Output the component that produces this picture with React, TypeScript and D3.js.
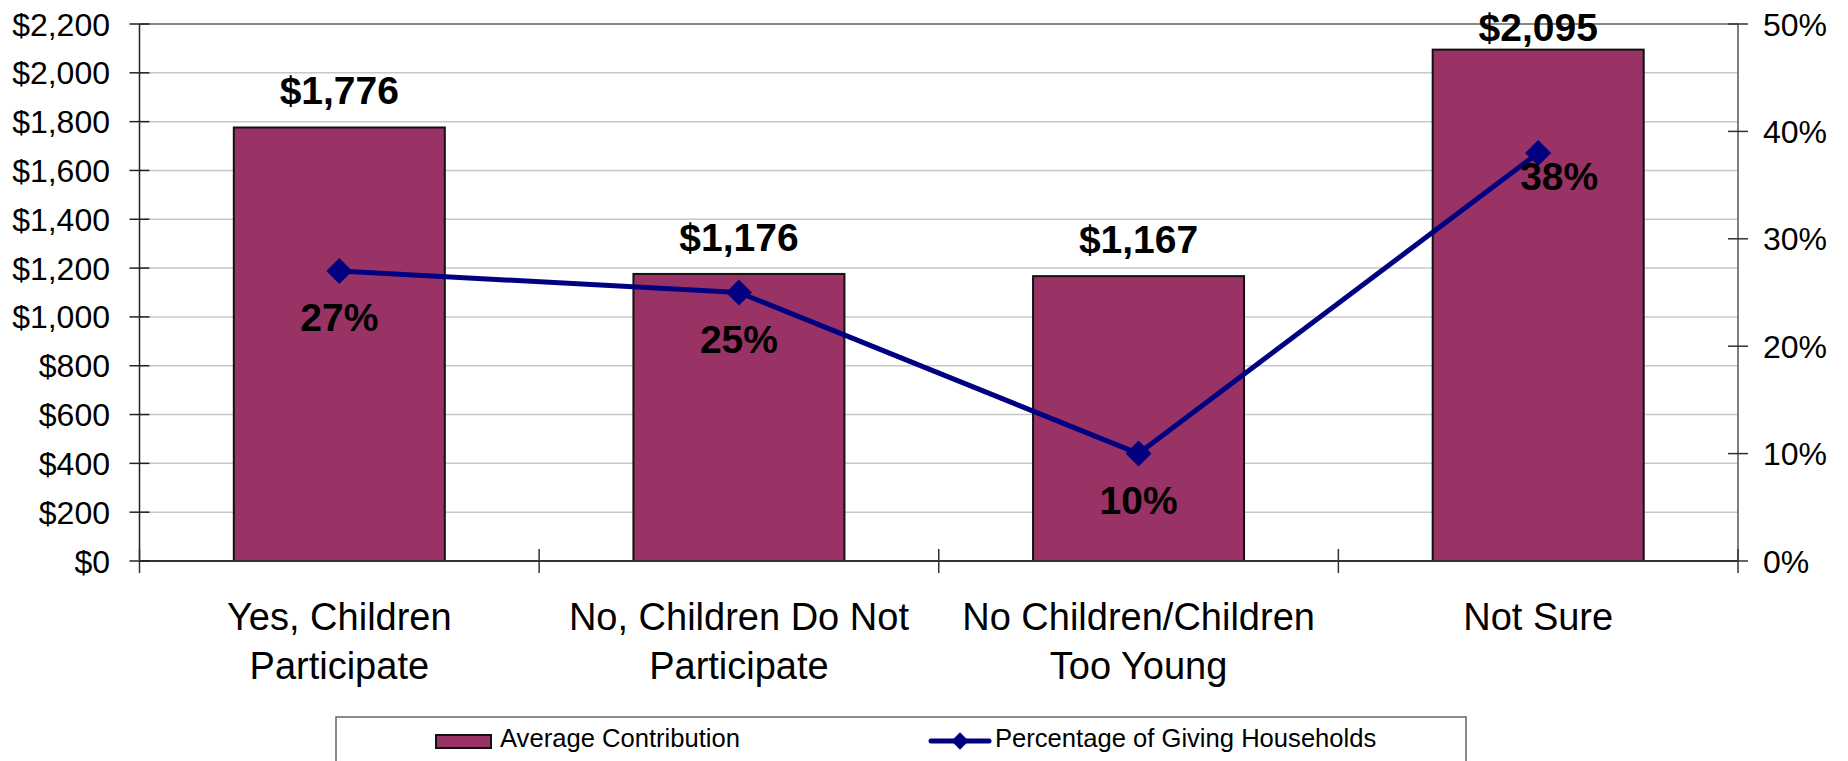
import React from "react";
import * as d3 from "d3";

const categories: string[][] = [
  ["Yes, Children", "Participate"],
  ["No, Children Do Not", "Participate"],
  ["No Children/Children", "Too Young"],
  ["Not Sure"],
];
const categoryKeys = ["yes", "no", "none", "notsure"];
const avgContribution = [1776, 1176, 1167, 2095];
const pctGiving = [0.27, 0.25, 0.1, 0.38];
const leftTicks = [0, 200, 400, 600, 800, 1000, 1200, 1400, 1600, 1800, 2000, 2200];
const rightTicks = [0, 0.1, 0.2, 0.3, 0.4, 0.5];
const seriesNames = ["Average Contribution", "Percentage of Giving Households"];

const W = 1848;
const H = 761;
const X0 = 139.5;
const X1 = 1738;
const Y0 = 561;
const Y1 = 24;
const FONT = "'Liberation Sans', Arial, sans-serif";
const BAR = "#993366";
const NAVY = "#000080";

export default function App() {
  const x = d3
    .scaleBand<string>()
    .domain(categoryKeys)
    .range([X0, X1])
    .paddingInner(0.472)
    .paddingOuter(0.236);
  const step = x.step();
  const yL = d3.scaleLinear().domain([0, 2200]).range([Y0, Y1]);
  const yR = d3.scaleLinear().domain([0, 0.5]).range([Y0, Y1]);
  const cx = (i: number) => (x(categoryKeys[i]) as number) + x.bandwidth() / 2;

  const line = d3
    .line<number>()
    .x((_, i) => cx(i))
    .y((d) => yR(d));

  const diamond = d3.symbol(d3.symbolSquare, 338)() as string;
  const diamondSmall = d3.symbol(d3.symbolSquare, 150)() as string;

  const boundaries = d3.range(categoryKeys.length + 1).map((i) => X0 + i * step);

  return (
    <svg
      width={W}
      height={H}
      style={{ position: "absolute", left: 0, top: 0, background: "#fff" }}
      fontFamily={FONT}
    >
      <rect x={0} y={0} width={W} height={H} fill="#fff" />
      {/* gridlines */}
      {leftTicks.map((t) => (
        <line
          key={"g" + t}
          x1={X0}
          x2={X1}
          y1={yL(t)}
          y2={yL(t)}
          stroke={t === 2200 ? "#888" : "#c8c8c8"}
          strokeWidth={t === 2200 ? 2 : 1.5}
        />
      ))}
      {/* bars */}
      {avgContribution.map((v, i) => (
        <rect
          key={"b" + i}
          x={x(categoryKeys[i])}
          y={yL(v)}
          width={x.bandwidth()}
          height={yL(0) - yL(v)}
          fill={BAR}
          stroke="#111"
          strokeWidth={2}
        />
      ))}
      {/* axes */}
      <line x1={X0} x2={X0} y1={Y1} y2={Y0} stroke="#222" strokeWidth={1.5} />
      <line x1={X1} x2={X1} y1={Y1} y2={Y0} stroke="#555" strokeWidth={1.5} />
      <line x1={X0} x2={X1} y1={Y0} y2={Y0} stroke="#333" strokeWidth={2} />
      {leftTicks.map((t) => (
        <g key={"lt" + t}>
          <line x1={X0 - 10} x2={X0 + 10} y1={yL(t)} y2={yL(t)} stroke="#222" strokeWidth={1.5} />
          <text x={110} y={yL(t) + 11.5} textAnchor="end" fontSize={32} fill="#000">
            {"$" + d3.format(",")(t)}
          </text>
        </g>
      ))}
      {rightTicks.map((t) => (
        <g key={"rt" + t}>
          <line x1={X1 - 10} x2={X1 + 10} y1={yR(t)} y2={yR(t)} stroke="#333" strokeWidth={1.5} />
          <text x={1763} y={yR(t) + 11.5} textAnchor="start" fontSize={32} fill="#000">
            {d3.format(".0%")(t)}
          </text>
        </g>
      ))}
      {boundaries.map((b, i) => (
        <line key={"ct" + i} x1={b} x2={b} y1={Y0 - 12} y2={Y0 + 12} stroke="#333" strokeWidth={1.5} />
      ))}
      {/* category labels */}
      {categories.map((lines, i) => (
        <text key={"c" + i} x={cx(i)} y={630} textAnchor="middle" fontSize={38} fill="#000">
          {lines.map((l, j) => (
            <tspan key={j} x={cx(i)} dy={j === 0 ? 0 : 48.5}>
              {l}
            </tspan>
          ))}
        </text>
      ))}
      {/* bar value labels */}
      {avgContribution.map((v, i) => (
        <text
          key={"bl" + i}
          x={cx(i)}
          y={yL(v) - (i === 3 ? 9 : 23)}
          textAnchor="middle"
          fontSize={39}
          fontWeight="bold"
          fill="#000"
        >
          {"$" + d3.format(",")(v)}
        </text>
      ))}
      {/* line */}
      <path d={line(pctGiving) as string} fill="none" stroke={NAVY} strokeWidth={5} strokeLinejoin="round" />
      {pctGiving.map((p, i) => (
        <path
          key={"m" + i}
          d={diamond}
          transform={`translate(${cx(i)},${yR(p)}) rotate(45)`}
          fill={NAVY}
        />
      ))}
      {pctGiving.map((p, i) => (
        <text
          key={"pl" + i}
          x={cx(i) + (i === 3 ? 21 : 0)}
          y={yR(p) + (i === 3 ? 37 : 60)}
          textAnchor="middle"
          fontSize={39}
          fontWeight="bold"
          fill="#000"
        >
          {d3.format(".0%")(p)}
        </text>
      ))}
      {/* legend */}
      <rect x={336} y={717} width={1130} height={80} fill="#fff" stroke="#666" strokeWidth={1.5} />
      <rect x={436} y={735} width={55} height={13} fill={BAR} stroke="#111" strokeWidth={2} />
      <text x={500} y={747} fontSize={25.6} fill="#000">
        {seriesNames[0]}
      </text>
      <line x1={931} x2={989} y1={741} y2={741} stroke={NAVY} strokeWidth={5} strokeLinecap="round" />
      <path d={diamondSmall} transform="translate(960,741) rotate(45)" fill={NAVY} />
      <text x={995} y={747} fontSize={25.6} fill="#000">
        {seriesNames[1]}
      </text>
    </svg>
  );
}
